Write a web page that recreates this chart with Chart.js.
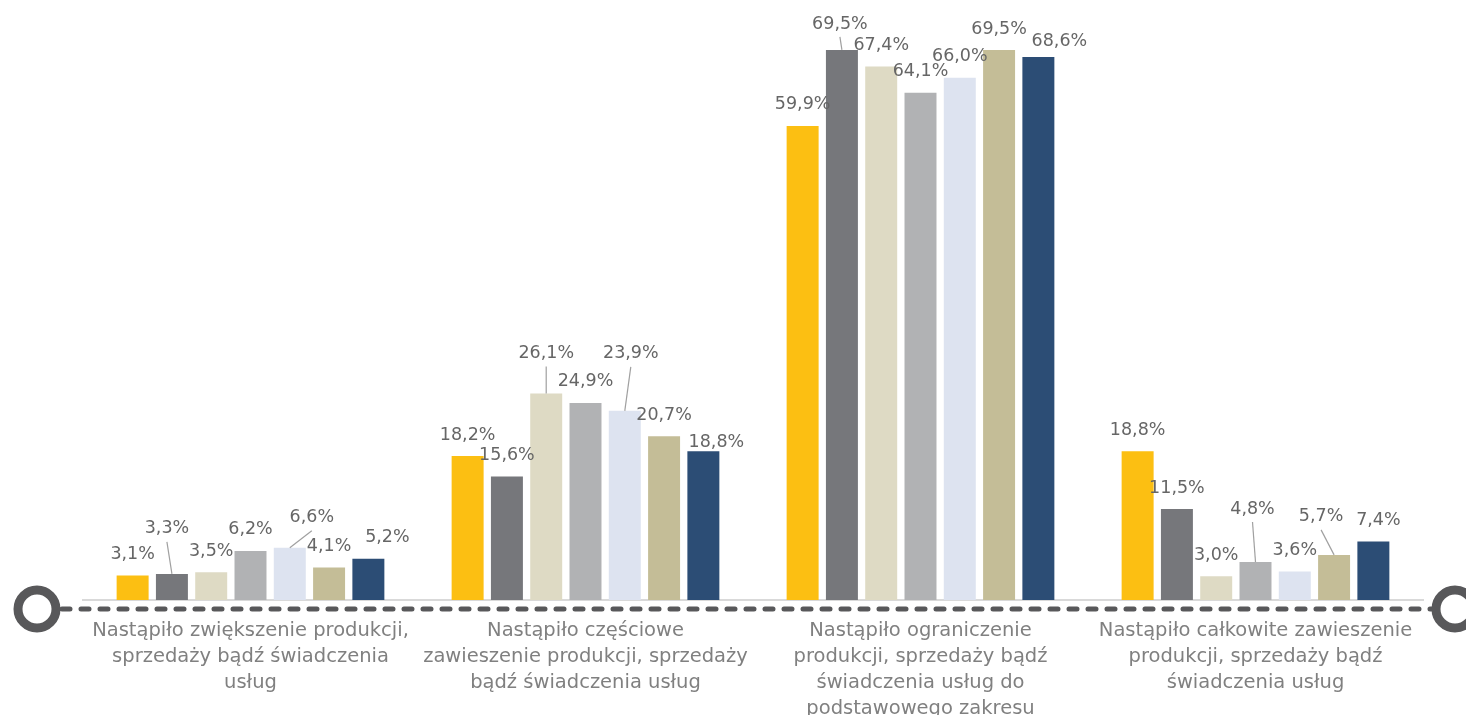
<!DOCTYPE html>
<html>

<head>
    <title>zmiany_w_dzialalnosci</title>
    <script src="https://cdn.jsdelivr.net/npm/chart.js"></script>
    <style>
        body {
            margin: 0;
            background: #ffffff;
        }
    </style>
</head>

<body>
    <canvas id="chartCanvas" width="1466" height="715"></canvas>
    <script>
        // kategorie (podpisy osi X, w liniach)
        const categories = [
            ['Nastąpiło zwiększenie produkcji,', 'sprzedaży bądź świadczenia', 'usług'],
            ['Nastąpiło częściowe', 'zawieszenie produkcji, sprzedaży', 'bądź świadczenia usług'],
            ['Nastąpiło ograniczenie', 'produkcji, sprzedaży bądź', 'świadczenia usług do', 'podstawowego zakresu'],
            ['Nastąpiło całkowite zawieszenie', 'produkcji, sprzedaży bądź', 'świadczenia usług']
        ];

        // wartości serii (%)
        const seria1 = [3.1, 18.2, 59.9, 18.8];
        const seria2 = [3.3, 15.6, 69.5, 11.5];
        const seria3 = [3.5, 26.1, 67.4, 3.0];
        const seria4 = [6.2, 24.9, 64.1, 4.8];
        const seria5 = [6.6, 23.9, 66.0, 3.6];
        const seria6 = [4.1, 20.7, 69.5, 5.7];
        const seria7 = [5.2, 18.8, 68.6, 7.4];

        const colors = ['#FCBF12', '#76777B', '#DEDAC4', '#B1B2B4', '#DDE3F0', '#C4BD97', '#2C4D75'];

        // przesunięcia etykiet danych [dx, dy] (jak w oryginale)
        const labelShift = [
            [[0, 0], [0, 0], [0, 0], [0, 0]],
            [[-5, -24], [0, 0], [-2, -5], [0, 0]],
            [[0, 0], [0, -19], [0, 0], [0, 0]],
            [[0, 0], [0, 0], [0, 0], [-3, -32]],
            [[22, -9], [6, -36], [0, 0], [0, 0]],
            [[0, 0], [0, 0], [0, 0], [-13, -17]],
            [[19, 0], [13, 12], [21, 5], [5, 0]]
        ];

        const FONT = '"DejaVu Sans", sans-serif';

        const valueLabels = {
            id: 'valueLabels',
            afterDatasetsDraw(chart) {
                const ctx = chart.ctx;
                ctx.save();
                ctx.font = '17.5px ' + FONT;
                ctx.textAlign = 'center';
                ctx.textBaseline = 'middle';
                chart.data.datasets.forEach((ds, i) => {
                    const meta = chart.getDatasetMeta(i);
                    meta.data.forEach((bar, j) => {
                        const [dx, dy] = labelShift[i][j];
                        const lx = bar.x + dx;
                        const ly = bar.y - 21 + dy;
                        if (dy < -4) {
                            ctx.strokeStyle = '#A0A0A0';
                            ctx.lineWidth = 1.2;
                            ctx.beginPath();
                            ctx.moveTo(lx, ly + 13);
                            ctx.lineTo(bar.x, bar.y);
                            ctx.stroke();
                        }
                        ctx.fillStyle = '#666666';
                        ctx.fillText(ds.data[j].toFixed(1).replace('.', ',') + '%', lx, ly);
                    });
                });
                ctx.restore();
            }
        };

        // przerywana linia z kółkami pod osią
        const dashedAxis = {
            id: 'dashedAxis',
            afterDraw(chart) {
                const ctx = chart.ctx;
                const y = chart.chartArea.bottom + 9;
                ctx.save();
                ctx.strokeStyle = '#58585A';
                ctx.lineWidth = 5;
                ctx.lineCap = 'round';
                ctx.setLineDash([8, 11]);
                ctx.beginPath();
                ctx.moveTo(62, y);
                ctx.lineTo(1432, y);
                ctx.stroke();
                ctx.setLineDash([]);
                ctx.lineWidth = 9;
                [37, 1455].forEach(cx => {
                    ctx.beginPath();
                    ctx.arc(cx, y, 19, 0, Math.PI * 2);
                    ctx.fillStyle = '#ffffff';
                    ctx.fill();
                    ctx.stroke();
                });
                ctx.restore();
            }
        };

        const series = [seria1, seria2, seria3, seria4, seria5, seria6, seria7];

        new Chart(document.getElementById('chartCanvas'), {
            type: 'bar',
            data: {
                labels: categories,
                datasets: series.map((d, i) => ({
                    label: 'Seria ' + (i + 1),
                    data: d,
                    backgroundColor: colors[i],
                    barPercentage: 0.814,
                    categoryPercentage: 0.821
                }))
            },
            options: {
                responsive: false,
                animation: false,
                layout: {
                    padding: { top: 46, left: 83, right: 43, bottom: 0 }
                },
                plugins: {
                    legend: { display: false },
                    tooltip: { enabled: false }
                },
                scales: {
                    x: {
                        grid: { display: false },
                        border: { color: '#D9D9D9', width: 2 },
                        ticks: {
                            color: '#808080',
                            font: { family: FONT, size: 19.5, lineHeight: 1.33 },
                            padding: 10,
                            maxRotation: 0,
                            autoSkip: false
                        },
                        afterFit(scale) {
                            scale.height = 115;
                        }
                    },
                    y: {
                        display: false,
                        min: 0,
                        max: 70
                    }
                }
            },
            plugins: [valueLabels, dashedAxis]
        });
    </script>
</body>

</html>
